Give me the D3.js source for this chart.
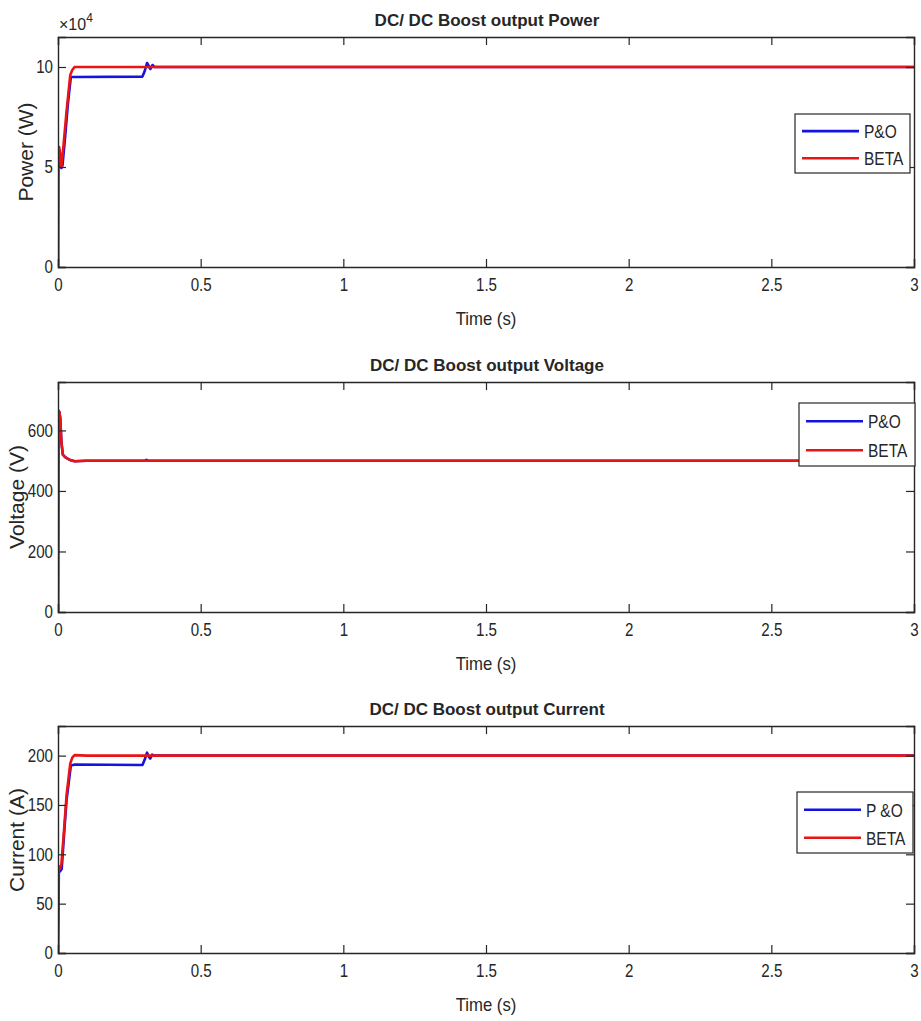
<!DOCTYPE html>
<html>
<head>
<meta charset="utf-8">
<script src="https://cdn.jsdelivr.net/npm/d3@7"></script>
<style>
  html, body { margin: 0; padding: 0; background: #fff; }
  svg text { font-family: "Liberation Sans", Arial, sans-serif; fill: #262626; }
</style>
</head>
<body>
<svg id="chart" width="921" height="1021"></svg>
<script>
// ---------- data ----------
const xTicks = [0, 0.5, 1, 1.5, 2, 2.5, 3];
const xTickLabels = ["0", "0.5", "1", "1.5", "2", "2.5", "3"];

// Power (x 10^4 W)
const powerPOTime  = [0, 0.001, 0.006, 0.012, 0.016, 0.025, 0.035, 0.045, 0.06, 0.296, 0.304, 0.312, 0.318, 0.324, 0.331, 0.338, 3];
const powerPOVal   = [0, 5.0, 5.2, 4.95, 5.1, 6.5, 8.2, 9.5, 9.5, 9.52, 9.8, 10.2, 10.05, 9.9, 10.1, 10.0, 10.0];
const powerBetaTime = [0, 0.001, 0.004, 0.008, 0.012, 0.02, 0.03, 0.043, 0.05, 0.058, 0.1, 3];
const powerBetaVal  = [0, 5.5, 6.0, 5.6, 5.0, 6.2, 7.8, 9.6, 9.85, 10, 10, 10];
const powerTicks = [0, 5, 10];

// Voltage (V)
const voltPOTime  = [0, 0.002, 0.005, 0.008, 0.012, 0.017, 0.025, 0.04, 0.058, 0.1, 0.305, 0.31, 0.315, 3];
const voltPOVal   = [0, 665, 660, 640, 560, 520, 512, 503, 498, 500, 500, 503, 500, 500];
const voltBetaTime = [0, 0.002, 0.005, 0.008, 0.012, 0.017, 0.025, 0.04, 0.058, 0.1, 3];
const voltBetaVal  = [0, 665, 660, 640, 560, 520, 512, 503, 498, 500, 500];
const voltTicks = [0, 200, 400, 600];

// Current (A)
const curPOTime  = [0, 0.003, 0.008, 0.013, 0.02, 0.03, 0.045, 0.06, 0.296, 0.304, 0.312, 0.318, 0.323, 0.33, 0.338, 3];
const curPOVal   = [0, 82, 83, 85, 115, 155, 190, 191, 190.5, 196, 203, 199, 197, 201, 200, 200];
const curBetaTime = [0, 0.002, 0.006, 0.012, 0.02, 0.03, 0.043, 0.05, 0.058, 0.1, 3];
const curBetaVal  = [0, 88, 85, 90, 120, 160, 192, 198, 200.5, 200, 200];
const curTicks = [0, 50, 100, 150, 200];

const panels = [
  { title: "DC/ DC Boost output Power", ylabel: "Power (W)", yMax: 11.5, yTicks: powerTicks,
    top: 37, bottom: 267, exponent: true,
    series: [{ name: "P&O", t: powerPOTime, v: powerPOVal, color: "#1414e0" },
             { name: "BETA", t: powerBetaTime, v: powerBetaVal, color: "#ea1414" }],
    legend: { x: 795, y: 114, w: 115, h: 59 }, ylabelX: 25, ylabelY: 152 },
  { title: "DC/ DC Boost output Voltage", ylabel: "Voltage (V)", yMax: 760, yTicks: voltTicks,
    top: 382, bottom: 612, exponent: false,
    series: [{ name: "P&O", t: voltPOTime, v: voltPOVal, color: "#1414e0" },
             { name: "BETA", t: voltBetaTime, v: voltBetaVal, color: "#ea1414" }],
    legend: { x: 799, y: 403, w: 116, h: 63 }, ylabelX: 16, ylabelY: 497 },
  { title: "DC/ DC Boost output Current", ylabel: "Current (A)", yMax: 230, yTicks: curTicks,
    top: 726, bottom: 953, exponent: false,
    series: [{ name: "P &O", t: curPOTime, v: curPOVal, color: "#1414e0" },
             { name: "BETA", t: curBetaTime, v: curBetaVal, color: "#ea1414" }],
    legend: { x: 797, y: 792, w: 116, h: 61 }, ylabelX: 16, ylabelY: 840 }
];

const left = 58, right = 914;
const svg = d3.select("#chart");
svg.append("rect").attr("width", 921).attr("height", 1021).attr("fill", "#fff");

const axisColor = "#262626";
const tickLen = 8;

function condense(sel, f) {
  sel.each(function () {
    const len = this.getComputedTextLength();
    if (len > 0) d3.select(this).attr("textLength", len * f).attr("lengthAdjust", "spacingAndGlyphs");
  });
}

panels.forEach(p => {
  const x = d3.scaleLinear().domain([0, 3]).range([left, right]);
  const y = d3.scaleLinear().domain([0, p.yMax]).range([p.bottom, p.top]);
  const g = svg.append("g");

  const clipId = "clip" + p.top;
  g.append("clipPath").attr("id", clipId).append("rect")
    .attr("x", left).attr("y", p.top - 2).attr("width", right - left).attr("height", p.bottom - p.top + 2);

  const line = d3.line().x(d => x(d[0])).y(d => y(d[1]));
  p.series.forEach(s => {
    const pts = s.t.map((t, i) => [t, s.v[i]]);
    g.append("path").attr("d", line(pts)).attr("fill", "none")
      .attr("stroke", s.color).attr("stroke-width", 2.6).attr("stroke-linejoin", "round")
      .attr("clip-path", `url(#${clipId})`);
  });

  const xb = d3.axisBottom(x).tickValues(xTicks).tickFormat((d, i) => xTickLabels[i]).tickSize(-tickLen).tickPadding(11);
  const xt = d3.axisTop(x).tickValues(xTicks).tickFormat("").tickSize(-tickLen);
  const yl = d3.axisLeft(y).tickValues(p.yTicks).tickFormat(d3.format("d")).tickSize(-tickLen).tickPadding(5);
  const yr = d3.axisRight(y).tickValues(p.yTicks).tickFormat("").tickSize(-tickLen);

  [[xb, `translate(0,${p.bottom})`], [xt, `translate(0,${p.top})`],
   [yl, `translate(${left},0)`], [yr, `translate(${right},0)`]].forEach(([ax, tr]) => {
    const a = g.append("g").attr("transform", tr).call(ax);
    a.select(".domain").attr("stroke", axisColor).attr("stroke-width", 1.4);
    a.selectAll(".tick line").attr("stroke", axisColor).attr("stroke-width", 1.2);
    const t = a.selectAll(".tick text").attr("font-size", 18).attr("fill", axisColor)
      .style("font-family", '"Liberation Sans", Arial, sans-serif');
    condense(t, 0.84);
  });

  // title
  g.append("text").attr("x", (left + right) / 2 + 1).attr("y", p.top - 11)
    .attr("text-anchor", "middle").attr("font-size", 17).attr("font-weight", "bold")
    .attr("fill", "#111").text(p.title);

  // x label
  const xl = g.append("text").attr("x", (left + right) / 2).attr("y", p.bottom + 58)
    .attr("text-anchor", "middle").attr("font-size", 19).text("Time (s)");
  condense(xl, 0.88);

  // y label
  const ylab = g.append("text")
    .attr("transform", `translate(${p.ylabelX},${p.ylabelY}) rotate(-90)`)
    .attr("text-anchor", "middle").attr("dominant-baseline", "central")
    .attr("font-size", 21).text(p.ylabel);

  if (p.exponent) {
    const e = g.append("text").attr("x", left + 1).attr("y", p.top - 7).attr("font-size", 16);
    e.append("tspan").text("\u00d710");
    e.append("tspan").attr("dy", -8).attr("font-size", 12).text("4");
  }

  // legend
  const L = p.legend;
  const lg = g.append("g");
  lg.append("rect").attr("x", L.x).attr("y", L.y).attr("width", L.w).attr("height", L.h)
    .attr("fill", "#fff").attr("stroke", axisColor).attr("stroke-width", 1.2);
  p.series.forEach((s, i) => {
    const cy = L.y + L.h * (0.29 + 0.46 * i);
    lg.append("line").attr("x1", L.x + 7).attr("x2", L.x + 64).attr("y1", cy).attr("y2", cy)
      .attr("stroke", s.color).attr("stroke-width", 2.6);
    const tx = lg.append("text").attr("x", L.x + 69).attr("y", cy + 1).attr("dominant-baseline", "central")
      .attr("font-size", 18).text(s.name);
    condense(tx, 0.86);
  });
});
</script>
</body>
</html>
